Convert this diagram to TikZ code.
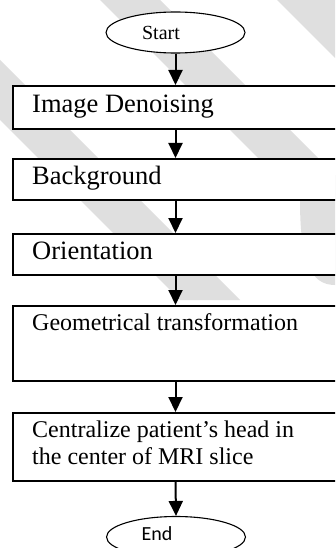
\documentclass[tikz,border=0pt]{standalone}
\usepackage{fontspec}
\setmainfont{Liberation Serif}
\newfontfamily\calib{Carlito}
\usetikzlibrary{arrows.meta,shapes.geometric}
\definecolor{wm}{gray}{0.875}
\tikzset{
  stepbox/.style={draw=black,line width=1.8pt,fill=white,rectangle,inner sep=0pt,minimum width=333pt,anchor=north west},
  term/.style={draw=black,line width=1.1pt,fill=white,ellipse,inner sep=0pt,minimum width=139pt,minimum height=41pt},
  lbl/.style={inner sep=0pt,anchor=base west,font=\fontsize{26.5}{30}\selectfont},
  lblsmall/.style={inner sep=0pt,anchor=base west,font=\fontsize{24}{26}\selectfont},
  arr/.style={line width=2pt,-{Triangle[width=14pt,length=15pt]}}
}
\begin{document}
\begin{tikzpicture}[x=1pt,y=-1pt]
\useasboundingbox (0,0) rectangle (335,548);
\clip (0,0) rectangle (335,548);
\fill[white] (0,0) rectangle (335,548);
% watermark bands
\fill[wm] (277,0) -- (335,0) -- (335,58) -- cycle;
\fill[wm] (100,0) -- (160,0) -- (335,175) -- (335,285) .. controls (310,285) and (300,260) .. (300,200) -- cycle;
\fill[wm] (0,60) -- (0,120) -- (180,300) -- (240,300) -- cycle;
% terminals
\node[term] (start) at (175.5,32.5) {};
\node[inner sep=0pt,anchor=base,font=\fontsize{20}{22}\selectfont] (starttxt) at (161,40) {Start};
\node[term] (end) at (176,537) {};
\node[inner sep=0pt,anchor=base,font=\calib\fontsize{20}{22}\selectfont] (endtxt) at (157,540) {End};
% boxes
\node[stepbox,minimum height=43pt] (b1) at (12,85) {};
\node[lbl] (t1) at (32,113) {Image Denoising};
\node[stepbox,minimum height=41pt] (b2) at (12,158) {};
\node[lbl] (t2) at (32,184) {Background};
\node[stepbox,minimum height=41pt] (b3) at (12,233) {};
\node[lbl] (t3) at (32,259) {Orientation};
\node[stepbox,minimum height=75pt] (b4) at (12,305) {};
\node[lblsmall] (t4) at (32,330) {Geometrical transformation};
\node[stepbox,minimum height=68pt] (b5) at (12,412) {};
\node[lblsmall] (t5a) at (32,437) {Centralize patient’s head in};
\node[lblsmall] (t5b) at (32,464) {the center of MRI slice};
% connectors
\draw[arr] (start.south) -- (start.south |- b1.north);
\draw[arr] (start.south |- b1.south) -- (start.south |- b2.north);
\draw[arr] (start.south |- b2.south) -- (start.south |- b3.north);
\draw[arr] (start.south |- b3.south) -- (start.south |- b4.north);
\draw[arr] (start.south |- b4.south) -- (start.south |- b5.north);
\draw[arr] (start.south |- b5.south) -- (end.north);
\end{tikzpicture}
\end{document}
